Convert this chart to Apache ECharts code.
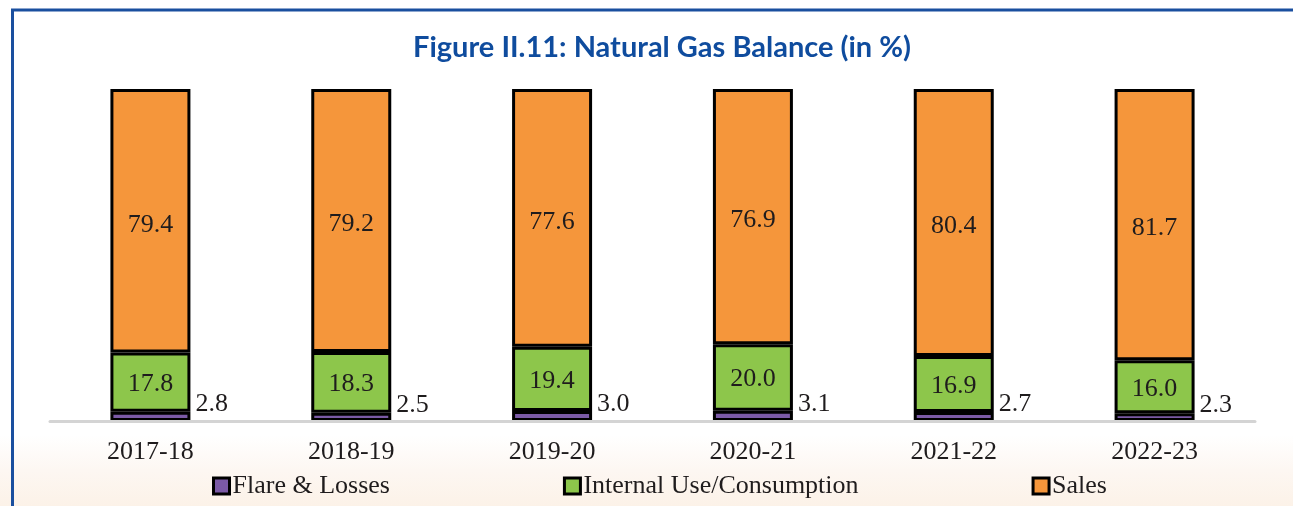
<!DOCTYPE html>
<html>
<head>
<meta charset="utf-8">
<script src="https://cdn.jsdelivr.net/npm/echarts@6/dist/echarts.min.js"></script>
<style>
  html, body { margin: 0; padding: 0; background: #fff; }
  #chart { width: 1293px; height: 506px; }
</style>
</head>
<body>
<div id="chart"></div>
<script>
// data
var years = ['2017-18', '2018-19', '2019-20', '2020-21', '2021-22', '2022-23'];
var flare = [2.8, 2.5, 3.0, 3.1, 2.7, 2.3];
var internalUse = [17.8, 18.3, 19.4, 20.0, 16.9, 16.0];
var sales = [79.4, 79.2, 77.6, 76.9, 80.4, 81.7];

var serif = '"Liberation Serif", "Times New Roman", serif';
var textColor = '#1f1c1d';

var myChart = echarts.init(document.getElementById('chart'));

function fmt(p) { return p.value.toFixed(1); }

var option = {
    backgroundColor: {
        type: 'linear', x: 0, y: 0, x2: 0, y2: 1,
        colorStops: [
            { offset: 0, color: '#ffffff' },
            { offset: 0.86, color: '#ffffff' },
            { offset: 0.93, color: '#fdf7f2' },
            { offset: 1, color: '#fcf2e8' }
        ]
    },
    title: {
        text: 'Figure II.11: Natural Gas Balance (in %)',
        top: 28,
        left: 657,
        textAlign: 'center',
        textStyle: {
            fontFamily: 'Lato',
            fontWeight: 'bold',
            fontSize: 29,
            color: '#0f4c9e'
        }
    },
    legend: {
        data: ['Flare & Losses', 'Internal Use/Consumption', 'Sales'],
        left: 207,
        top: 468,
        itemWidth: 16,
        itemHeight: 16,
        itemGap: 173,
        icon: 'rect',
        itemStyle: { borderColor: '#000', borderWidth: 3 },
        textStyle: { fontFamily: serif, fontSize: 26, color: textColor, padding: [0, 0, 0, -2] }
    },
    grid: { left: 50, right: 38, top: 89, bottom: 85 },
    xAxis: {
        type: 'category',
        data: years,
        z: 5,
        axisLine: { lineStyle: { color: '#d4d4d4', width: 3 } },
        axisTick: { show: false },
        axisLabel: { fontFamily: serif, fontSize: 26, color: textColor, margin: 18 }
    },
    yAxis: {
        type: 'value',
        min: 0,
        max: 100,
        show: false
    },
    series: [
        {
            name: 'Flare & Losses',
            type: 'bar',
            stack: 'gas',
            barWidth: 80,
            data: flare,
            itemStyle: { color: '#7b5aa6', borderColor: '#000', borderWidth: 3 },
            label: {
                show: true,
                position: 'right',
                distance: 5,
                offset: [0, -12],
                formatter: fmt,
                fontFamily: serif,
                fontSize: 26,
                color: textColor
            }
        },
        {
            name: 'Internal Use/Consumption',
            type: 'bar',
            stack: 'gas',
            data: internalUse,
            itemStyle: { color: '#8dc64b', borderColor: '#000', borderWidth: 3 },
            label: {
                show: true,
                position: 'inside',
                offset: [0, 2],
                formatter: fmt,
                fontFamily: serif,
                fontSize: 26,
                color: textColor
            }
        },
        {
            name: 'Sales',
            type: 'bar',
            stack: 'gas',
            data: sales,
            itemStyle: { color: '#f5963b', borderColor: '#000', borderWidth: 3 },
            label: {
                show: true,
                position: 'inside',
                offset: [0, 4],
                formatter: fmt,
                fontFamily: serif,
                fontSize: 26,
                color: textColor
            }
        }
    ],
    graphic: [
        {
            type: 'line',
            shape: { x1: 11, y1: 10, x2: 1293, y2: 10 },
            style: { stroke: '#1a4f9f', lineWidth: 3 }
        },
        {
            type: 'line',
            shape: { x1: 12.5, y1: 9, x2: 12.5, y2: 506 },
            style: { stroke: '#1a4f9f', lineWidth: 3 }
        }
    ]
};

myChart.setOption(option);
</script>
</body>
</html>
